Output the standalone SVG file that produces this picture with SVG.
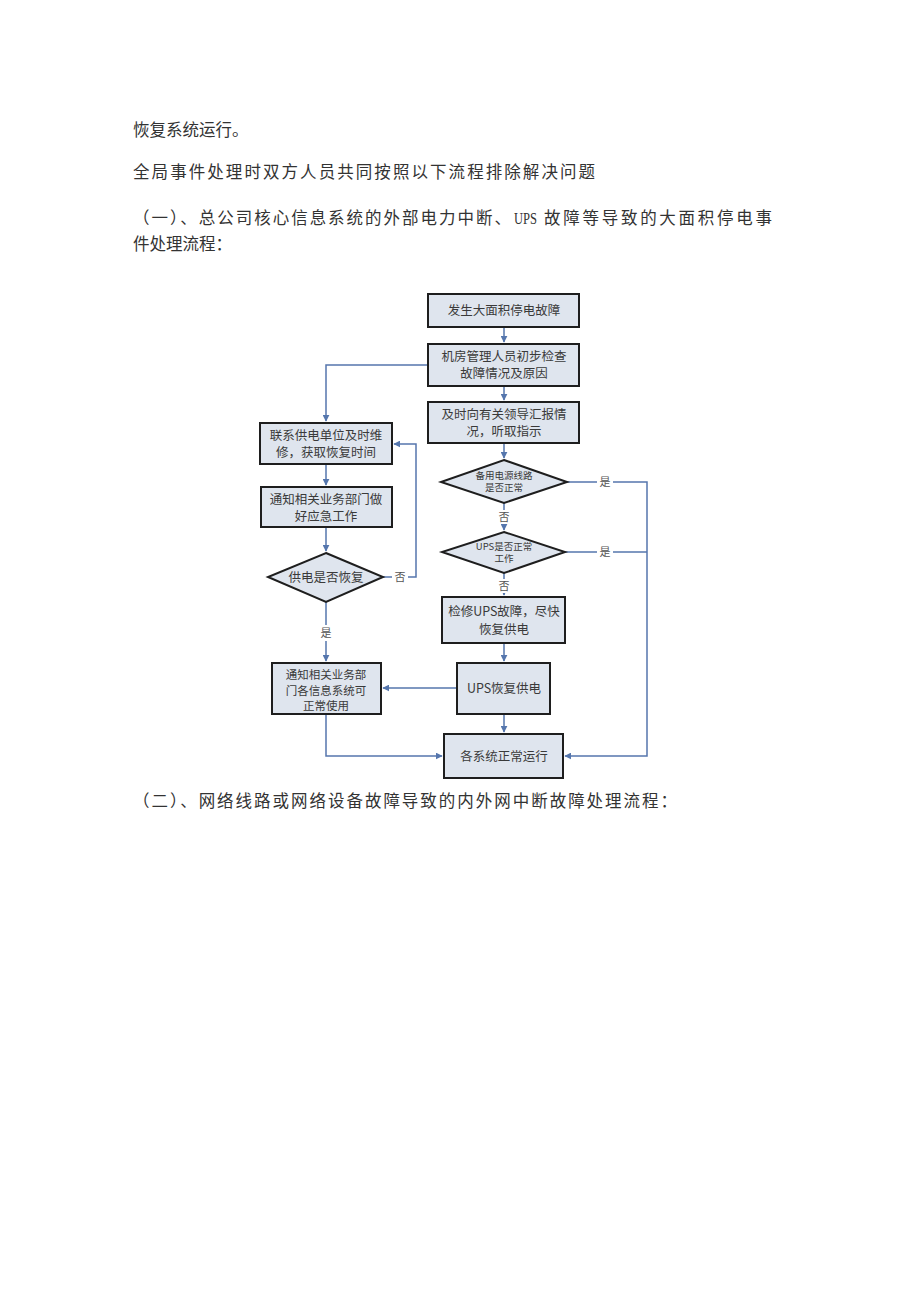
<svg xmlns="http://www.w3.org/2000/svg" width="920" height="1302" viewBox="0 0 920 1302">
<style>
.body{font-family:"Noto Sans CJK SC","Noto Sans",sans-serif;font-size:16.5px;fill:#333;}
.ser{font-family:"Liberation Serif","Noto Sans CJK SC",serif;font-size:17px;fill:#333;}
.node rect,.node polygon{fill:#dfe5ee;stroke:#1e1e1e;stroke-width:2;}
.nt{font-family:"Noto Sans CJK SC",sans-serif;font-size:12.5px;fill:#3a3a3a;text-anchor:middle;}
.nts{font-family:"Noto Sans CJK SC",sans-serif;font-size:11.5px;fill:#3a3a3a;text-anchor:middle;}
.st{font-family:"Noto Sans CJK SC",sans-serif;font-size:9.5px;fill:#3a3a3a;text-anchor:middle;}
.lbl{font-family:"Noto Sans CJK SC",sans-serif;font-size:11px;fill:#555;text-anchor:middle;}
.conn path{fill:none;stroke:#5576ad;stroke-width:1.5;}
</style>
<defs>
<marker id="ah" viewBox="0 0 10 10" refX="9" refY="5" markerWidth="7" markerHeight="7" orient="auto" markerUnits="userSpaceOnUse">
<path d="M0,0 L10,5 L0,10 z" fill="#5576ad"/>
</marker>
</defs>
<rect width="920" height="1302" fill="#fff"/>
<text class="body" x="133" y="136">恢复系统运行。</text>
<text class="body" x="133" y="178" textLength="462" lengthAdjust="spacing">全局事件处理时双方人员共同按照以下流程排除解决问题</text>
<text class="body" x="133" y="224" textLength="378" lengthAdjust="spacing">（一）、总公司核心信息系统的外部电力中断、</text>
<text class="ser" x="514" y="224" textLength="23" lengthAdjust="spacingAndGlyphs">UPS</text>
<text class="body" x="544" y="224" textLength="228" lengthAdjust="spacing">故障等导致的大面积停电事</text>
<text class="body" x="133" y="250">件处理流程：</text>
<text class="body" x="133" y="807" textLength="544" lengthAdjust="spacing">（二）、网络线路或网络设备故障导致的内外网中断故障处理流程：</text>

<g class="conn">
<path d="M504,327 V342" marker-end="url(#ah)"/>
<path d="M504,386 V400" marker-end="url(#ah)"/>
<path d="M504,443 V458" marker-end="url(#ah)"/>
<path d="M428,365 H326 V421" marker-end="url(#ah)"/>
<path d="M326,464 V485" marker-end="url(#ah)"/>
<path d="M326,527 V551" marker-end="url(#ah)"/>
<path d="M383,577 H416 V444 H394" marker-end="url(#ah)"/>
<path d="M326,602 V661" marker-end="url(#ah)"/>
<path d="M504,503 V530" marker-end="url(#ah)"/>
<path d="M567,482 H647 V756 H565" marker-end="url(#ah)"/>
<path d="M565,552 H647"/>
<path d="M504,573 V595" marker-end="url(#ah)"/>
<path d="M504,643 V661" marker-end="url(#ah)"/>
<path d="M457,688 H383" marker-end="url(#ah)"/>
<path d="M504,714 V732" marker-end="url(#ah)"/>
<path d="M326,714 V756 H442" marker-end="url(#ah)"/>
<rect x="392" y="569" width="16" height="16" fill="#fff"/>
<text class="lbl" x="400" y="581">否</text>
<rect x="318" y="625" width="16" height="16" fill="#fff"/>
<text class="lbl" x="326" y="637">是</text>
<rect x="496" y="510" width="16" height="14" fill="#fff"/>
<text class="lbl" x="504" y="521">否</text>
<rect x="496" y="579" width="16" height="14" fill="#fff"/>
<text class="lbl" x="504" y="590">否</text>
<rect x="597" y="474" width="16" height="16" fill="#fff"/>
<text class="lbl" x="605" y="486">是</text>
<rect x="597" y="544" width="16" height="16" fill="#fff"/>
<text class="lbl" x="605" y="556">是</text>
</g>

<g id="n1" class="node"><rect x="428" y="294" width="151" height="33"/><text class="nt" x="504" y="315">发生大面积停电故障</text></g>
<g id="n2" class="node"><rect x="428" y="344" width="151" height="42"/><text class="nt" x="504" y="361">机房管理人员初步检查</text><text class="nt" x="504" y="378">故障情况及原因</text></g>
<g id="n3" class="node"><rect x="428" y="402" width="151" height="41"/><text class="nt" x="504" y="419">及时向有关领导汇报情</text><text class="nt" x="504" y="436">况，听取指示</text></g>
<g id="n4" class="node"><rect x="260" y="423" width="132" height="41"/><text class="nt" x="326" y="440">联系供电单位及时维</text><text class="nt" x="326" y="457">修，获取恢复时间</text></g>
<g id="n5" class="node"><rect x="261" y="487" width="131" height="40"/><text class="nt" x="326" y="504">通知相关业务部门做</text><text class="nt" x="326" y="521">好应急工作</text></g>
<g id="n6" class="node"><polygon points="326,553 383,577 326,602 268,577"/><text class="nt" x="326" y="582">供电是否恢复</text></g>
<g id="n7" class="node"><polygon points="504,460 567,482 504,503 441,482"/><text class="st" x="504" y="479">备用电源线路</text><text class="st" x="504" y="491">是否正常</text></g>
<g id="n8" class="node"><polygon points="504,532 565,552 504,573 442,552"/><text class="st" x="504" y="550">UPS是否正常</text><text class="st" x="504" y="562">工作</text></g>
<g id="n9" class="node"><rect x="442" y="597" width="123" height="46"/><text class="nt" x="504" y="616">检修UPS故障，尽快</text><text class="nt" x="504" y="634">恢复供电</text></g>
<g id="n10" class="node"><rect x="272" y="663" width="109" height="51"/><text class="nts" x="326" y="679">通知相关业务部</text><text class="nts" x="326" y="695">门各信息系统可</text><text class="nts" x="326" y="710">正常使用</text></g>
<g id="n11" class="node"><rect x="457" y="663" width="93" height="51"/><text class="nt" x="504" y="693">UPS恢复供电</text></g>
<g id="n12" class="node"><rect x="444" y="734" width="119" height="44"/><text class="nt" x="504" y="761">各系统正常运行</text></g>
</svg>
